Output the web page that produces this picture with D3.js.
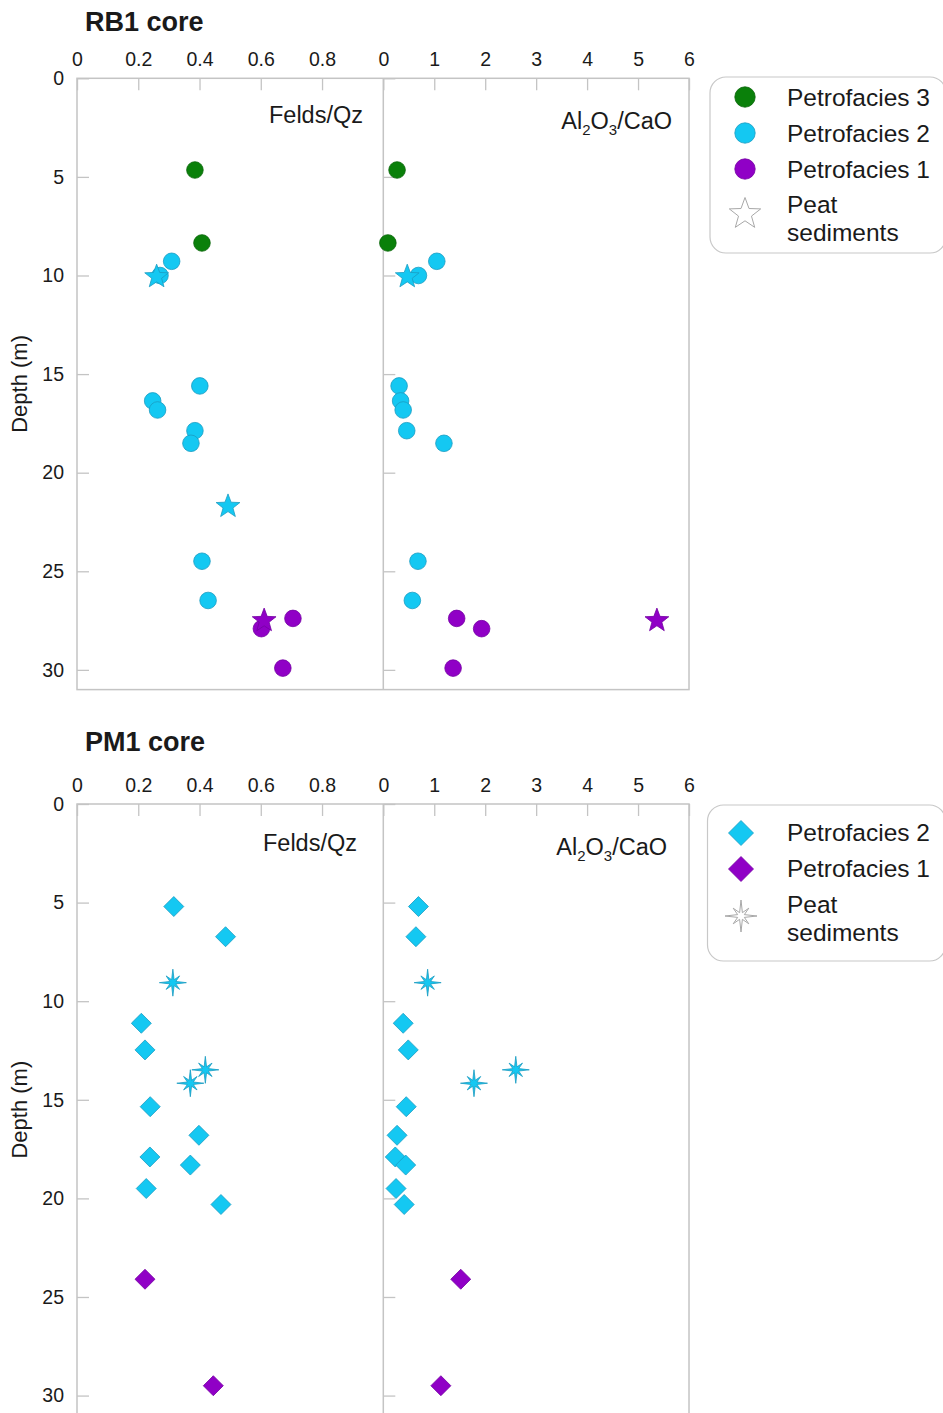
<!DOCTYPE html>
<html>
<head>
<meta charset="utf-8">
<script src="https://cdn.jsdelivr.net/npm/d3@7"></script>
<style>
  body { margin: 0; background: #fff; }
  text { font-family: "Liberation Sans", Arial, sans-serif; fill: #1a1a1a; }
</style>
</head>
<body>
<svg id="chart" width="943" height="1413"></svg>
<script>
// ---- RB1 core: one entry per sample ----
const rb1Depth  = [4.65, 8.35, 9.28, 10.0, 10.06, 15.6, 16.36, 16.82, 17.87, 18.51, 21.71, 24.49, 26.48, 27.39, 27.5, 27.91, 29.91];
const rb1Felds  = [0.385, 0.408, 0.309, 0.271, 0.26, 0.401, 0.247, 0.263, 0.385, 0.372, 0.493, 0.408, 0.428, 0.705, 0.611, 0.602, 0.672];
const rb1AlCa   = [0.27, 0.09, 1.05, 0.69, 0.47, 0.31, 0.34, 0.39, 0.46, 1.19, null, 0.68, 0.57, 1.44, 5.37, 1.93, 1.37];
const rb1Facies = [3, 3, 2, 2, 2, 2, 2, 2, 2, 2, 2, 2, 2, 1, 1, 1, 1];
const rb1Peat   = [0, 0, 0, 0, 1, 0, 0, 0, 0, 0, 1, 0, 0, 0, 1, 0, 0];

// ---- PM1 core ----
const pm1Depth  = [5.2, 6.73, 9.06, 11.12, 12.47, 13.48, 14.16, 15.35, 16.8, 17.9, 18.31, 19.5, 20.31, 24.1, 29.5];
const pm1Felds  = [0.316, 0.485, 0.313, 0.21, 0.222, 0.419, 0.37, 0.239, 0.398, 0.238, 0.37, 0.226, 0.47, 0.222, 0.445];
const pm1AlCa   = [0.69, 0.64, 0.87, 0.39, 0.49, 2.6, 1.78, 0.45, 0.27, 0.235, 0.44, 0.25, 0.41, 1.52, 1.13];
const pm1Facies = [2, 2, 2, 2, 2, 2, 2, 2, 2, 2, 2, 2, 2, 1, 1];
const pm1Peat   = [0, 0, 1, 0, 0, 1, 1, 0, 0, 0, 0, 0, 0, 0, 0];

// ---- axes ----
const feldsTicks = [0, 0.2, 0.4, 0.6, 0.8];
const alcaTicks  = [0, 1, 2, 3, 4, 5, 6];
const depthTicks = [0, 5, 10, 15, 20, 25, 30];
const depthMax = 31;

// ---- legends ----
const rb1Legend = ["Petrofacies 3", "Petrofacies 2", "Petrofacies 1"];
const pm1Legend = ["Petrofacies 2", "Petrofacies 1"];
const peatLabel = ["Peat", "sediments"];

const faciesFill   = {3: "#0a800a", 2: "#14c8f2", 1: "#9000c6"};
const faciesStroke = {3: "#0a660a", 2: "#1a9cc2", 1: "#7400a2"};

const svg = d3.select("#chart");

// star polygon path centred on 0,0
function starPath(n, outer, inner, rot) {
  const pts = [];
  for (let i = 0; i < n * 2; i++) {
    const r = i % 2 === 0 ? outer : inner;
    const a = rot + i * Math.PI / n;
    pts.push([r * Math.sin(a), -r * Math.cos(a)]);
  }
  return "M" + pts.map(p => p[0].toFixed(2) + "," + p[1].toFixed(2)).join("L") + "Z";
}
// eight-point spiky marker: long thin arms on the axes, shorter on the diagonals
function asteriskPath(axisR, diagR, inner) {
  const pts = [];
  for (let i = 0; i < 16; i++) {
    const a = i * Math.PI / 8;
    let r;
    if (i % 2 === 1) r = inner;
    else r = (i / 2) % 2 === 0 ? axisR : diagR;
    pts.push([r * Math.sin(a), -r * Math.cos(a)]);
  }
  return "M" + pts.map(p => p[0].toFixed(2) + "," + p[1].toFixed(2)).join("L") + "Z";
}
const diamondPath = h => `M0,${-h}L${h},0L0,${h}L${-h},0Z`;

const panels = [
  {
    title: "RB1 core", titleY: 30.7, top: 78.3,
    depth: rb1Depth, felds: rb1Felds, alca: rb1AlCa, facies: rb1Facies, peat: rb1Peat,
    shape: "circle",
    feldsLabel: {x: 363, y: 122.5}, alcaLabel: {x: 672, y: 128.5},
    legend: {x: 710, y: 77, w: 236, h: 176, items: rb1Legend, facies: [3, 2, 1],
             rows: [106, 142, 178], symX: 745, symY: [97, 133, 169],
             peatY: [213, 241], peatSymY: 214}
  },
  {
    title: "PM1 core", titleY: 750.5, top: 804,
    depth: pm1Depth, felds: pm1Felds, alca: pm1AlCa, facies: pm1Facies, peat: pm1Peat,
    shape: "diamond",
    feldsLabel: {x: 357, y: 850.5}, alcaLabel: {x: 667, y: 855},
    legend: {x: 707.5, y: 805, w: 238, h: 156, items: pm1Legend, facies: [2, 1],
             rows: [841, 877], symX: 741, symY: [833, 869],
             peatY: [913, 941], peatSymY: 916}
  }
];

const xL0 = 77, xMid = 383.3, xR1 = 689;
const plotH = 611.3;
const gridColor = "#c4c4c4";

panels.forEach(p => {
  const g = svg.append("g");
  const y = d3.scaleLinear().domain([0, depthMax]).range([p.top, p.top + plotH]);
  const xF = d3.scaleLinear().domain([0, 1]).range([xL0, xMid]);
  const xA = d3.scaleLinear().domain([0, 6]).range([xMid, xR1]);

  // title
  g.append("text").attr("x", 85).attr("y", p.titleY)
    .attr("font-size", 27).attr("font-weight", "bold").text(p.title);

  // frame
  g.append("rect").attr("x", xL0).attr("y", p.top)
    .attr("width", xR1 - xL0).attr("height", plotH)
    .attr("fill", "none").attr("stroke", gridColor).attr("stroke-width", 1.5);
  g.append("line").attr("x1", xMid).attr("x2", xMid).attr("y1", p.top).attr("y2", p.top + plotH)
    .attr("stroke", gridColor).attr("stroke-width", 1.5);

  const styleAxis = sel => {
    sel.select(".domain").remove();
    sel.selectAll(".tick line").attr("stroke", gridColor).attr("stroke-width", 1.3);
    sel.selectAll(".tick text").attr("fill", "#1a1a1a")
      .style("font-family", "'Liberation Sans', Arial, sans-serif").attr("font-size", 19.5);
  };

  // top axes, ticks pointing into the plot
  g.append("g").attr("transform", `translate(0,${p.top})`)
    .call(d3.axisTop(xF).tickValues(feldsTicks).tickSize(-12).tickPadding(12).tickFormat(d3.format("")))
    .call(styleAxis);
  g.append("g").attr("transform", `translate(0,${p.top})`)
    .call(d3.axisTop(xA).tickValues(alcaTicks).tickSize(-12).tickPadding(12).tickFormat(d3.format("d")))
    .call(styleAxis);

  // depth axis with labels, and bare ticks on the second plot
  g.append("g").attr("transform", `translate(${xL0},0)`)
    .call(d3.axisLeft(y).tickValues(depthTicks).tickSize(-12).tickPadding(13))
    .call(styleAxis);
  g.append("g").attr("transform", `translate(${xMid},0)`)
    .call(d3.axisLeft(y).tickValues(depthTicks).tickSize(-12).tickFormat(""))
    .call(styleAxis);

  g.append("text")
    .attr("transform", `translate(27,${p.top + plotH / 2}) rotate(-90)`)
    .attr("text-anchor", "middle").attr("font-size", 22).text("Depth (m)");

  // in-plot variable labels
  g.append("text").attr("x", p.feldsLabel.x).attr("y", p.feldsLabel.y)
    .attr("text-anchor", "end").attr("font-size", 23.5).text("Felds/Qz");
  const al = g.append("text").attr("x", p.alcaLabel.x).attr("y", p.alcaLabel.y)
    .attr("text-anchor", "end").attr("font-size", 23.5);
  al.append("tspan").text("Al");
  al.append("tspan").attr("font-size", 15).attr("dy", 6).text("2");
  al.append("tspan").attr("dy", -6).text("O");
  al.append("tspan").attr("font-size", 15).attr("dy", 6).text("3");
  al.append("tspan").attr("dy", -6).text("/CaO");

  // samples
  const rows = p.depth.map((d, i) => ({
    depth: d, felds: p.felds[i], alca: p.alca[i], facies: p.facies[i], peat: p.peat[i]
  }));
  const ordered = rows.filter(r => !r.peat).concat(rows.filter(r => r.peat));

  const marker = r => {
    if (r.peat) {
      return p.shape === "circle" ? starPath(5, 12.5, 5.2, 0) : asteriskPath(13.5, 9.5, 3.2);
    }
    return p.shape === "circle" ? d3.symbol(d3.symbolCircle, Math.PI * 8.3 * 8.3)() : diamondPath(10);
  };

  [["felds", xF], ["alca", xA]].forEach(([key, x]) => {
    g.append("g").selectAll("path")
      .data(ordered.filter(r => r[key] != null))
      .join("path")
      .attr("transform", r => `translate(${x(r[key])},${y(r.depth)})`)
      .attr("d", marker)
      .attr("fill", r => faciesFill[r.facies])
      .attr("stroke", r => faciesStroke[r.facies])
      .attr("stroke-width", 0.8);
  });

  // legend
  const L = p.legend;
  g.append("rect").attr("x", L.x).attr("y", L.y).attr("width", L.w).attr("height", L.h)
    .attr("rx", 16).attr("fill", "#fff").attr("stroke", "#c8c8c8").attr("stroke-width", 1.2);
  L.items.forEach((label, i) => {
    const f = L.facies[i];
    g.append("path")
      .attr("transform", `translate(${L.symX},${L.symY[i]})`)
      .attr("d", p.shape === "circle" ? d3.symbol(d3.symbolCircle, Math.PI * 10.2 * 10.2)() : diamondPath(12.5))
      .attr("fill", faciesFill[f]).attr("stroke", faciesStroke[f]).attr("stroke-width", 0.8);
    g.append("text").attr("x", 787).attr("y", L.rows[i]).attr("font-size", 24.5).text(label);
  });
  g.append("path")
    .attr("transform", `translate(${L.symX},${L.peatSymY})`)
    .attr("d", p.shape === "circle" ? starPath(5, 16.5, 6.8, 0) : asteriskPath(16, 11, 3.6))
    .attr("fill", "#fff").attr("stroke", "#a8a8a8").attr("stroke-width", 1);
  peatLabel.forEach((t, i) => {
    g.append("text").attr("x", 787).attr("y", L.peatY[i]).attr("font-size", 24.5).text(t);
  });
});
</script>
</body>
</html>
